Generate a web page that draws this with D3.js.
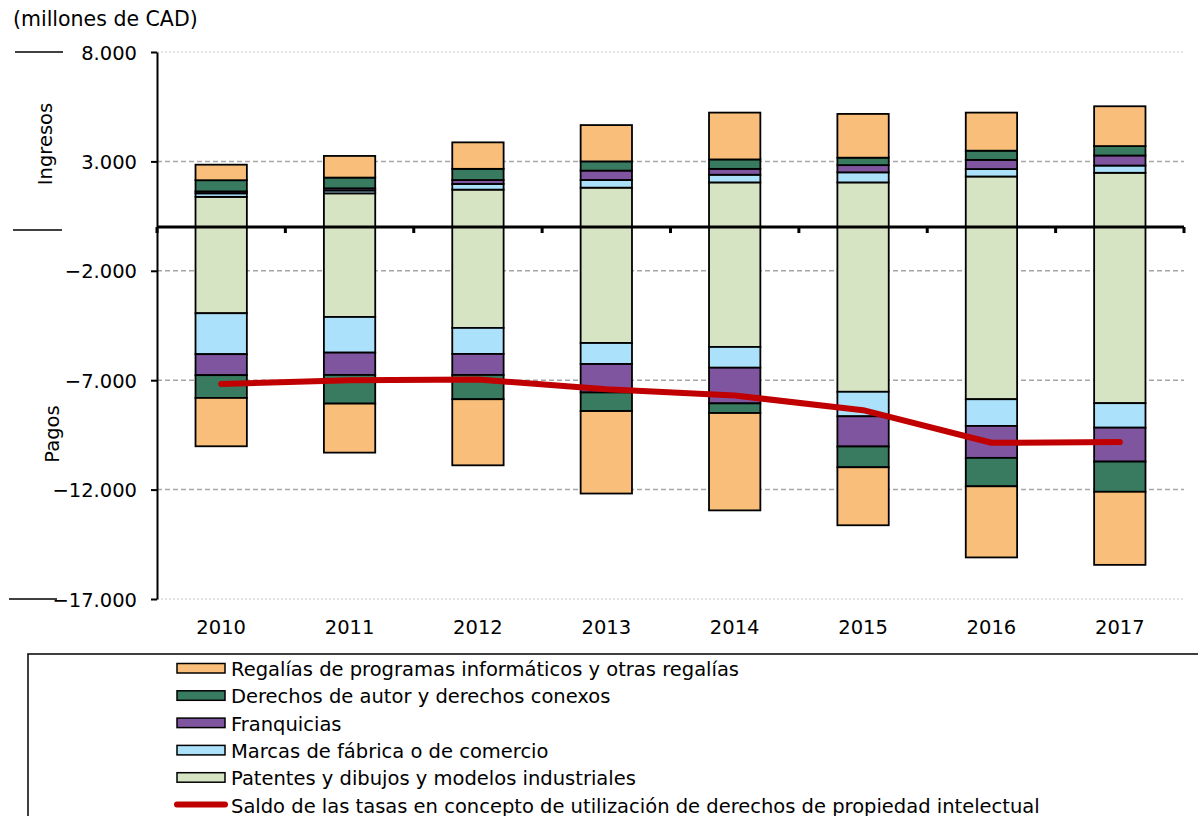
<!DOCTYPE html>
<html>
<head>
<meta charset="utf-8">
<script src="https://cdn.jsdelivr.net/npm/d3@7/dist/d3.min.js"></script>
<style>
  html, body { margin: 0; padding: 0; background: #fff; }
  svg { display: block; font-family: "DejaVu Sans", Verdana, sans-serif; }
</style>
</head>
<body>
<svg id="chart" width="1198" height="816"></svg>
<script>
// ---- Data (millones de CAD) ----
const years = ["2010", "2011", "2012", "2013", "2014", "2015", "2016", "2017"];

// Ingresos (positive)
const patentesIngresos    = [1380, 1540, 1710, 1800, 2040, 2040, 2310, 2480];
const marcasIngresos      = [160, 130, 260, 350, 350, 460, 340, 330];
const franquiciasIngresos = [90, 100, 180, 430, 270, 330, 420, 460];
const derechosIngresos    = [510, 490, 510, 420, 430, 340, 420, 430];
const regaliasIngresos    = [710, 990, 1210, 1660, 2140, 2000, 1740, 1820];

// Pagos (negative)
const patentesPagos    = [-3940, -4110, -4610, -5300, -5480, -7530, -7870, -8050];
const marcasPagos      = [-1870, -1630, -1190, -960, -950, -1120, -1220, -1120];
const franquiciasPagos = [-960, -1020, -960, -1300, -1630, -1380, -1460, -1550];
const derechosPagos    = [-1040, -1310, -1110, -850, -440, -950, -1300, -1380];
const regaliasPagos    = [-2210, -2240, -3020, -3770, -4450, -2650, -3250, -3340];

// Saldo
const saldo = [-7170, -7000, -6970, -7410, -7700, -8370, -9860, -9830];

const yTicks = [8000, 3000, -2000, -7000, -12000, -17000];

const seriesNames = [
  "Patentes y dibujos y modelos industriales",
  "Marcas de fábrica o de comercio",
  "Franquicias",
  "Derechos de autor y derechos conexos",
  "Regalías de programas informáticos y otras regalías"
];
const lineName = "Saldo de las tasas en concepto de utilización de derechos de propiedad intelectual";
const seriesColors = ["#D6E4C4", "#ABE1FB", "#7F55A0", "#397B60", "#F9BF7A"];
const lineColor = "#C00000";

const ingresosSeries = [patentesIngresos, marcasIngresos, franquiciasIngresos, derechosIngresos, regaliasIngresos];
const pagosSeries = [patentesPagos, marcasPagos, franquiciasPagos, derechosPagos, regaliasPagos];

// ---- Layout ----
const svg = d3.select("#chart");
const plotLeft = 157, plotRight = 1184, plotTop = 52, plotBottom = 599;
const fontSize = 19.5;

const x = d3.scaleBand().domain(years).range([plotLeft, plotRight]).paddingInner(0.6).paddingOuter(0.3);
const y = d3.scaleLinear().domain([-17000, 8000]).range([plotBottom, plotTop]);
const fmt = v => d3.format(",")(v).replace(/,/g, ".");

// Gridlines
svg.append("g").selectAll("line").data(yTicks).join("line")
  .attr("x1", plotLeft).attr("x2", plotRight)
  .attr("y1", d => y(d)).attr("y2", d => y(d))
  .attr("stroke", d => (d === 8000 || d === -17000) ? "#C8C8C8" : "#A6A6A6")
  .attr("stroke-width", d => (d === 8000 || d === -17000) ? 1 : 1.5)
  .attr("stroke-dasharray", d => (d === 8000 || d === -17000) ? "2,2" : "5,3");

// Stacked bars
function stackSegments(seriesList) {
  const segs = [];
  years.forEach((yr, i) => {
    let base = 0;
    seriesList.forEach((s, k) => {
      const v = s[i];
      segs.push({ year: yr, k, y0: base, y1: base + v });
      base += v;
    });
  });
  return segs;
}
const segs = stackSegments(ingresosSeries).concat(stackSegments(pagosSeries));
svg.append("g").selectAll("rect").data(segs).join("rect")
  .attr("x", d => x(d.year))
  .attr("width", x.bandwidth())
  .attr("y", d => y(Math.max(d.y0, d.y1)))
  .attr("height", d => Math.abs(y(d.y0) - y(d.y1)))
  .attr("fill", d => seriesColors[d.k])
  .attr("stroke", "#000")
  .attr("stroke-width", 1.8);

// Y axis
const yAxis = d3.axisLeft(y).tickValues(yTicks).tickSize(6).tickSizeOuter(0).tickFormat(fmt);
const gy = svg.append("g").attr("transform", `translate(${plotLeft},0)`).call(yAxis);
gy.select(".domain").attr("stroke", "#000").attr("stroke-width", 2);
gy.selectAll(".tick line").attr("stroke", "#000").attr("stroke-width", 2);
gy.selectAll(".tick text")
  .attr("x", -20)
  .attr("dy", "0.36em")
  .attr("font-size", fontSize)
  .attr("font-family", "DejaVu Sans, Verdana, sans-serif")
  .attr("fill", "#000");

// Zero axis with category boundary ticks
const x0 = y(0);
svg.append("line").attr("x1", plotLeft).attr("x2", plotRight)
  .attr("y1", x0).attr("y2", x0).attr("stroke", "#000").attr("stroke-width", 3);
const step = x.step();
const boundaries = d3.range(years.length + 1).map(i => plotLeft + i * step);
svg.append("g").selectAll("line").data(boundaries).join("line")
  .attr("x1", d => d).attr("x2", d => d)
  .attr("y1", x0).attr("y2", x0 + 6)
  .attr("stroke", "#000").attr("stroke-width", 3);

// Year labels
svg.append("g").selectAll("text").data(years).join("text")
  .attr("x", d => x(d) + x.bandwidth() / 2)
  .attr("y", 634)
  .attr("text-anchor", "middle")
  .attr("font-size", fontSize)
  .text(d => d);

// Saldo line
const line = d3.line()
  .x((d, i) => x(years[i]) + x.bandwidth() / 2)
  .y(d => y(d));
svg.append("path").datum(saldo)
  .attr("d", line)
  .attr("fill", "none")
  .attr("stroke", lineColor)
  .attr("stroke-width", 6)
  .attr("stroke-linecap", "round")
  .attr("stroke-linejoin", "round");

// Unit label
svg.append("text").attr("x", 13).attr("y", 26).attr("font-size", 20.5).text("(millones de CAD)");

// Side labels
svg.append("text").attr("transform", "translate(52,144) rotate(-90)")
  .attr("text-anchor", "middle").attr("font-size", fontSize).text("Ingresos");
svg.append("text").attr("transform", "translate(59,434) rotate(-90)")
  .attr("text-anchor", "middle").attr("font-size", fontSize).text("Pagos");

// Decorative left lines
const deco = [[15, 63, y(8000)], [13, 62, 230], [9, 57, y(-17000)]];
svg.append("g").selectAll("line").data(deco).join("line")
  .attr("x1", d => d[0]).attr("x2", d => d[1])
  .attr("y1", d => d[2]).attr("y2", d => d[2])
  .attr("stroke", "#000").attr("stroke-width", 1.5);

// Legend
svg.append("rect").attr("x", 28).attr("y", 654).attr("width", 1200).attr("height", 200)
  .attr("fill", "none").attr("stroke", "#000").attr("stroke-width", 1.5);
const legendOrder = [4, 3, 2, 1, 0];
const rowH = 27.3, firstTop = 663.5;
const lg = svg.append("g");
legendOrder.forEach((k, r) => {
  const top = firstTop + r * rowH;
  lg.append("rect").attr("x", 177).attr("y", top).attr("width", 48).attr("height", 9.5)
    .attr("fill", seriesColors[k]).attr("stroke", "#000").attr("stroke-width", 1.5);
  lg.append("text").attr("x", 231).attr("y", top + 12.5).attr("font-size", fontSize).text(seriesNames[k]);
});
const lineTop = firstTop + 5 * rowH;
lg.append("line").attr("x1", 177).attr("x2", 225).attr("y1", lineTop + 4.5).attr("y2", lineTop + 4.5)
  .attr("stroke", lineColor).attr("stroke-width", 6).attr("stroke-linecap", "round");
lg.append("text").attr("x", 231).attr("y", lineTop + 12.5).attr("font-size", fontSize).text(lineName);
</script>
</body>
</html>
